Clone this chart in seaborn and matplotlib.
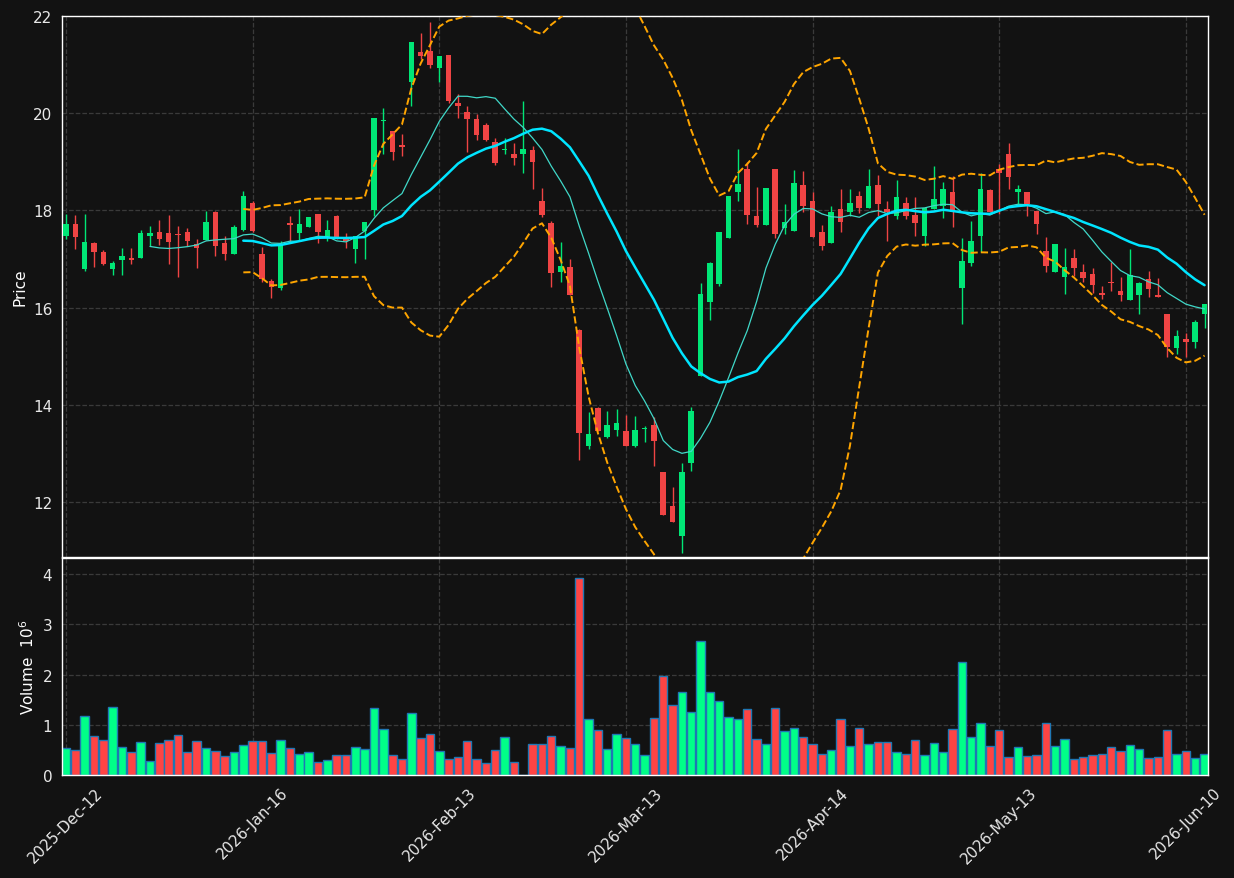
import numpy as np
import pandas as pd
import matplotlib
matplotlib.use("Agg")
import matplotlib.pyplot as plt
import seaborn as sns

# --- Data ---
opens = [17.48, 17.72, 16.79, 17.33, 17.14, 16.79, 16.98, 17.02, 17.02, 17.47,
         17.56, 17.53, 17.52, 17.56, 17.30, 17.39, 17.97, 17.33, 17.10, 17.60,
         18.15, 17.10, 16.54, 16.41, 17.74, 17.54, 17.66, 17.93, 17.45, 17.88,
         17.43, 17.21, 17.58, 18.01, 19.83, 19.64, 19.35, 20.65, 21.26, 21.28,
         20.93, 21.20, 20.22, 20.03, 19.88, 19.75, 19.40, 19.24, 19.16, 19.16,
         19.24, 18.19, 17.74, 16.74, 16.84, 15.54, 13.16, 13.93, 13.34, 13.49,
         13.46, 13.16, 13.50, 13.58, 12.61, 11.91, 11.31, 12.80, 14.59, 16.12,
         16.49, 17.44, 18.38, 18.85, 17.88, 17.71, 18.85, 17.64, 17.58, 18.52,
         18.19, 17.55, 17.33, 18.03, 17.96, 18.29, 18.05, 18.52, 18.03, 17.89,
         18.15, 17.91, 17.48, 18.03, 18.10, 18.37, 16.41, 16.92, 17.48, 18.42,
         18.85, 19.16, 18.37, 18.37, 17.99, 17.16, 16.74, 16.64, 17.02, 16.73,
         16.69, 16.30, 16.52, 16.34, 16.16, 16.25, 16.59, 16.27, 15.87, 15.16,
         15.35, 15.30, 15.87]
highs = [17.93, 17.91, 17.93, 17.35, 17.18, 16.95, 17.23, 17.23, 17.59, 17.67,
         17.80, 17.91, 17.67, 17.63, 17.41, 17.99, 17.99, 17.47, 17.70, 18.39,
         18.20, 17.25, 16.59, 17.38, 17.89, 18.03, 17.87, 17.93, 17.80, 17.91,
         17.53, 17.48, 17.76, 19.90, 20.10, 19.64, 19.58, 21.46, 21.64, 21.88,
         21.17, 21.20, 20.40, 20.15, 19.98, 19.80, 19.50, 19.50, 19.39, 20.25,
         19.33, 18.47, 17.79, 17.36, 17.00, 15.57, 13.85, 13.96, 13.88, 13.91,
         13.80, 13.78, 13.57, 13.74, 12.62, 12.30, 12.80, 13.96, 16.50, 16.94,
         17.56, 18.29, 19.26, 19.00, 18.48, 18.46, 18.85, 18.13, 18.84, 18.82,
         18.37, 17.69, 18.10, 18.45, 18.45, 18.39, 18.85, 18.73, 18.20, 18.63,
         18.27, 18.27, 18.06, 18.91, 18.58, 18.71, 17.43, 17.79, 18.78, 18.44,
         18.95, 19.39, 18.52, 18.37, 17.99, 17.45, 17.31, 17.22, 17.21, 16.90,
         16.81, 16.45, 16.93, 16.64, 17.21, 16.53, 16.76, 16.62, 15.87, 15.54,
         15.47, 15.75, 16.07]
lows = [17.41, 17.21, 16.76, 16.83, 16.88, 16.68, 16.68, 16.90, 17.02, 17.27,
        17.29, 16.90, 16.64, 17.27, 16.82, 17.39, 17.06, 16.97, 17.10, 17.57,
        17.55, 16.52, 16.19, 16.37, 17.36, 17.38, 17.65, 17.33, 17.38, 17.41,
        17.22, 16.91, 17.00, 17.89, 19.16, 19.04, 19.11, 20.15, 21.12, 20.92,
        20.65, 20.20, 19.90, 19.20, 19.45, 19.43, 18.93, 19.16, 18.94, 18.76,
        18.45, 17.87, 16.42, 16.52, 16.27, 12.87, 13.10, 13.47, 13.31, 13.36,
        13.15, 13.14, 13.24, 12.75, 11.74, 11.58, 10.96, 12.63, 14.59, 15.74,
        16.45, 17.44, 18.20, 17.73, 17.65, 17.71, 17.43, 17.51, 17.58, 17.96,
        17.46, 17.19, 17.33, 17.55, 17.88, 17.95, 18.05, 17.88, 17.38, 17.82,
        17.82, 17.48, 17.27, 18.03, 17.84, 17.65, 15.66, 16.85, 17.14, 17.96,
        17.92, 18.44, 18.13, 17.88, 17.51, 16.73, 16.74, 16.29, 16.66, 16.52,
        16.31, 16.18, 16.35, 16.14, 16.16, 15.87, 16.21, 16.21, 14.99, 15.05,
        14.99, 15.18, 15.59]
closes = [17.72, 17.46, 17.35, 17.15, 16.90, 16.92, 17.06, 16.97, 17.53, 17.53,
          17.42, 17.35, 17.50, 17.37, 17.23, 17.76, 17.27, 17.11, 17.66, 18.30,
          17.58, 16.59, 16.42, 17.30, 17.69, 17.72, 17.86, 17.56, 17.60, 17.41,
          17.38, 17.48, 17.76, 19.90, 19.86, 19.21, 19.31, 21.46, 21.18, 20.99,
          21.17, 20.26, 20.15, 19.89, 19.55, 19.45, 18.98, 19.27, 19.08, 19.26,
          19.00, 17.91, 16.71, 16.86, 16.27, 13.42, 13.40, 13.47, 13.58, 13.63,
          13.15, 13.48, 13.53, 13.26, 11.74, 11.58, 12.61, 13.87, 16.28, 16.91,
          17.55, 18.29, 18.54, 17.91, 17.71, 18.46, 17.52, 17.76, 18.56, 18.10,
          17.46, 17.27, 17.96, 17.77, 18.15, 18.05, 18.50, 18.13, 17.96, 18.27,
          17.89, 17.74, 18.06, 18.23, 18.44, 17.96, 16.96, 17.37, 18.44, 17.96,
          18.78, 18.68, 18.45, 18.13, 17.72, 16.86, 17.31, 16.83, 16.82, 16.60,
          16.47, 16.27, 16.50, 16.25, 16.68, 16.51, 16.38, 16.22, 15.20, 15.42,
          15.29, 15.71, 16.07]
volumes = [0.53, 0.49, 1.17, 0.77, 0.69, 1.35, 0.55, 0.45, 0.65, 0.27,
           0.63, 0.69, 0.79, 0.45, 0.67, 0.53, 0.47, 0.37, 0.45, 0.59,
           0.67, 0.67, 0.43, 0.69, 0.53, 0.41, 0.45, 0.25, 0.29, 0.39,
           0.39, 0.55, 0.51, 1.33, 0.91, 0.39, 0.31, 1.23, 0.73, 0.81,
           0.47, 0.31, 0.35, 0.67, 0.31, 0.23, 0.49, 0.75, 0.25, 0.00,
           0.61, 0.61, 0.77, 0.57, 0.53, 3.93, 1.11, 0.89, 0.51, 0.81,
           0.73, 0.61, 0.39, 1.13, 1.97, 1.39, 1.65, 1.25, 2.67, 1.65,
           1.47, 1.15, 1.11, 1.31, 0.71, 0.61, 1.33, 0.87, 0.93, 0.75,
           0.61, 0.41, 0.49, 1.11, 0.57, 0.93, 0.61, 0.65, 0.65, 0.45,
           0.41, 0.69, 0.39, 0.63, 0.45, 0.91, 2.25, 0.75, 1.03, 0.57,
           0.89, 0.35, 0.55, 0.37, 0.39, 1.03, 0.57, 0.71, 0.31, 0.35,
           0.39, 0.41, 0.55, 0.47, 0.59, 0.51, 0.33, 0.35, 0.89, 0.41,
           0.47, 0.33, 0.41]
tick_labels = ['2025-Dec-12', '2026-Jan-16', '2026-Feb-13', '2026-Mar-13',
               '2026-Apr-14', '2026-May-13', '2026-Jun-10']

# --- Style ---
BG = '#121212'
UP, DOWN = '#00e676', '#ef4444'
VUP, VDOWN = '#00ff88', '#ff4444'
sns.set_style("dark", {'axes.facecolor': BG, 'figure.facecolor': BG})
plt.rcParams.update({'font.size': 11, 'text.color': 'white',
                     'axes.labelcolor': 'white', 'xtick.color': 'white',
                     'ytick.color': 'white', 'axes.edgecolor': 'white'})

df = pd.DataFrame({'open': opens, 'high': highs, 'low': lows,
                   'close': closes, 'volume': volumes})
df['idx'] = np.arange(len(df))
df['up'] = df['close'] >= df['open']
df['ma10'] = df['close'].rolling(10).mean()
df['ma20'] = df['close'].rolling(20).mean()
std20 = df['close'].rolling(20).std(ddof=0)
df['bb_up'] = df['ma20'] + 2 * std20
df['bb_lo'] = df['ma20'] - 2 * std20

W, H = 1234, 879
fig = plt.figure(figsize=(W / 100, H / 100), dpi=100)
ax1 = fig.add_axes([62 / W, 1 - 558 / H, 1146 / W, 541 / H])
ax2 = fig.add_axes([62 / W, 1 - 776 / H, 1146 / W, 217 / H], sharex=ax1)

# --- Candles ---
cols = np.where(df['up'], UP, DOWN)
ax1.vlines(df['idx'], df['low'], df['high'], colors=cols, linewidth=1, zorder=2)
body_lo = np.minimum(df['open'], df['close'])
body_h = np.maximum(np.abs(df['close'] - df['open']), 0.02)
ax1.bar(df['idx'], body_h, bottom=body_lo, width=0.6, color=cols,
        edgecolor=cols, linewidth=0, zorder=3)

# --- Moving averages and Bollinger bands ---
sns.lineplot(data=df, x='idx', y='ma10', ax=ax1, color='#40d8c8', linewidth=0.9, zorder=4)
sns.lineplot(data=df, x='idx', y='ma20', ax=ax1, color='#00e5ff', linewidth=1.8, zorder=4)
sns.lineplot(data=df, x='idx', y='bb_up', ax=ax1, color='#ffa500', linewidth=1.4,
             linestyle='--', zorder=4)
sns.lineplot(data=df, x='idx', y='bb_lo', ax=ax1, color='#ffa500', linewidth=1.4,
             linestyle='--', zorder=4)

ax1.set_ylim(10.87, 22)
ax1.set_yticks([12, 14, 16, 18, 20, 22])
ax1.set_ylabel('Price')
ax1.set_xlabel('')
ax1.tick_params(axis='x', labelbottom=False, length=0)

# --- Volume ---
sns.barplot(data=df, x='idx', y='volume', hue='up', palette={True: VUP, False: VDOWN},
            native_scale=True, dodge=False, width=0.9, saturation=1,
            edgecolor='#1f77b4', linewidth=1, legend=False, ax=ax2)
ax2.set_ylim(0, 4.32)
ax2.set_yticks([0, 1, 2, 3, 4])
ax2.set_ylabel('Volume  $10^{6}$')
ax2.set_xlabel('')

tick_pos = np.arange(0, len(df), 20)
ax2.set_xticks(tick_pos)
ax2.set_xticklabels(tick_labels, rotation=45, ha='center')
ax2.set_xlim(-0.43, 122.37)

for ax in (ax1, ax2):
    ax.set_facecolor(BG)
    ax.grid(True, color='#3a3a3a', linestyle='--', linewidth=0.9)
    ax.set_axisbelow(True)
    for s in ax.spines.values():
        s.set_color('white')
        s.set_linewidth(1)
    ax.tick_params(colors='white', labelcolor='#e8e8e8')
ax1.set_xticks(tick_pos)

fig.savefig('out.png', facecolor=BG)
